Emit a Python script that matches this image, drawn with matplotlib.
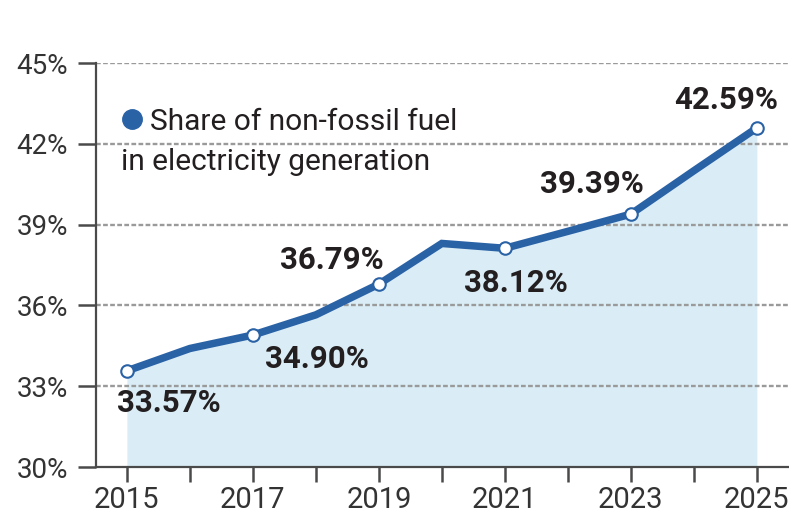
import matplotlib
matplotlib.use("Agg")
import matplotlib.pyplot as plt

# share of non-fossil fuel in electricity generation, percent
years = [2015, 2016, 2017, 2018, 2019, 2020, 2021, 2022, 2023, 2024, 2025]
share = [33.57, 34.4, 34.90, 35.65, 36.79, 38.3, 38.12, 38.75, 39.39, 41.0, 42.59]

label_years = [2015, 2017, 2019, 2021, 2023, 2025]
label_values = [33.57, 34.90, 36.79, 38.12, 39.39, 42.59]
label_texts = ["33.57%", "34.90%", "36.79%", "38.12%", "39.39%", "42.59%"]

y_ticks = [30, 33, 36, 39, 42, 45]
y_ticklabels = ["30%", "33%", "36%", "39%", "42%", "45%"]
x_ticklabels = [str(y) if y % 2 == 1 else "" for y in years]

legend_text = ["Share of non-fossil fuel", "in electricity generation"]

blue = "#2a62a6"
fill_blue = "#daedf6"
ink = "#231f20"
axis_grey = "#4a4a4a"

plt.rcParams["font.family"] = ["Roboto", "DejaVu Sans"]

fig = plt.figure(figsize=(7.89, 5.24), dpi=100)
ax = fig.add_axes([96 / 789, 57 / 524, 693 / 789, 404 / 524])

ax.fill_between(years, share, 30, color=fill_blue, lw=0, zorder=1)
for t in y_ticks[1:]:
    ax.axhline(t, color="#9a9a9a", lw=1.7, ls=(0, (2.0, 1.0)), zorder=1.5)
ax.plot(years, share, color=blue, lw=5.4, solid_joinstyle="miter",
        solid_capstyle="butt", zorder=3)
ax.plot(label_years, label_values, "o", ms=9, mfc="white", mec=blue,
        mew=1.5, zorder=4)

# label offsets in pixels from each marked point (dx, dy to baseline)
offsets = [(42, -41), (64, -33), (-47, 15), (11, -44), (-39, 21), (-31, 19)]
for x, v, s, off in zip(label_years, label_values, label_texts, offsets):
    ax.annotate(s, (x, v), xytext=off, textcoords="offset pixels",
                ha="center", va="baseline", fontsize=22.5,
                fontweight="bold", color=ink, zorder=5)

ax.set_xlim(2014.51, 2025.51)
ax.set_ylim(30, 45)
ax.set_yticks(y_ticks)
ax.set_yticklabels(y_ticklabels, fontsize=20, fontweight="normal", color="#333333")
ax.set_xticks(years)
ax.set_xticklabels(x_ticklabels, fontsize=21, fontweight="normal", color="#333333")
ax.tick_params(axis="y", length=13, width=1.8, color=axis_grey, pad=7)
ax.tick_params(axis="x", length=11, width=1.8, color=axis_grey, pad=3)

for side in ["top", "right"]:
    ax.spines[side].set_visible(False)
for side in ["left", "bottom"]:
    ax.spines[side].set_color(axis_grey)
    ax.spines[side].set_linewidth(1.6)
ax.spines["bottom"].set_zorder(6)

# legend: dot and two lines of text
ax.plot([0.052], [0.861], "o", ms=14, color=blue, transform=ax.transAxes,
        clip_on=False)
ax.text(0.078, 0.834, legend_text[0], transform=ax.transAxes, fontsize=21.5,
        color=ink, va="baseline", ha="left")
ax.text(0.036, 0.735, legend_text[1], transform=ax.transAxes, fontsize=21.5,
        color=ink, va="baseline", ha="left")

fig.savefig("out.png", dpi=100, facecolor="white")
